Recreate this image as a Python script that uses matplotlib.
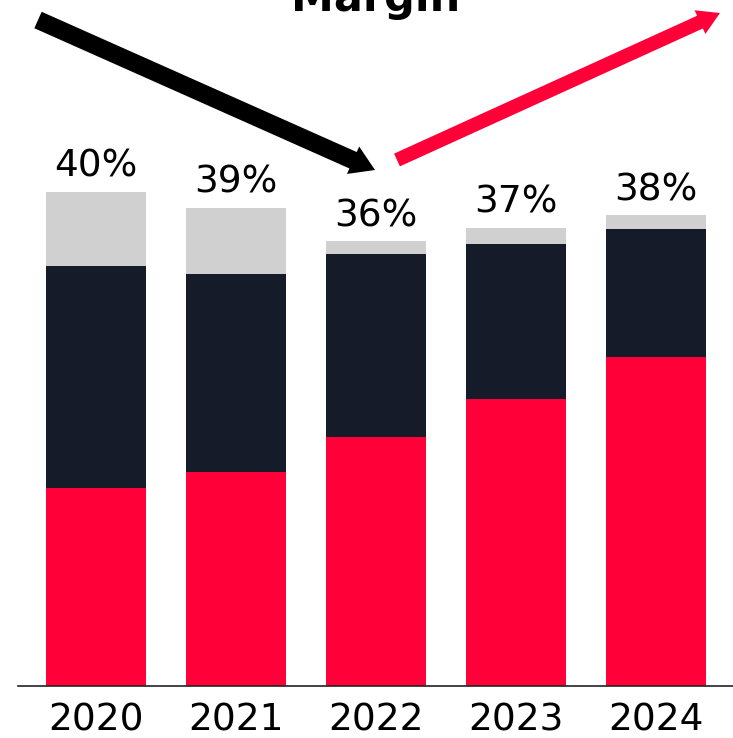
import matplotlib
matplotlib.use("Agg")
from matplotlib import pyplot as plt
from matplotlib.patches import FancyArrow
import numpy as np

# Margin breakdown per year (percentage points)
years = ["2020", "2021", "2022", "2023", "2024"]
core = [16.0, 17.3, 20.2, 23.2, 26.6]
mid = [18.0, 16.1, 14.8, 12.6, 10.4]
other = [6.0, 5.3, 1.0, 1.3, 1.1]
total_labels = ["40%", "39%", "36%", "37%", "38%"]

RED = "#FF0038"
NAVY = "#151B28"
GRAY = "#D0D0D0"

plt.rcParams.update({"font.family": "DejaVu Sans"})

W, H = 733, 738
fig = plt.figure(figsize=(W / 100, H / 100), dpi=100)
ax = fig.add_axes([18 / W, 52 / H, 715 / W, 686 / H])

x = np.arange(len(years))
bw = 100 / 140
core = np.array(core)
mid = np.array(mid)
other = np.array(other)

ax.bar(x, core, width=bw, color=RED, zorder=2)
ax.bar(x, mid, width=bw, bottom=core, color=NAVY, zorder=2)
ax.bar(x, other, width=bw, bottom=core + mid, color=GRAY, zorder=2)

tops = core + mid + other
for xi, top, lab in zip(x, tops, total_labels):
    ax.annotate(lab, (xi, top), xytext=(0, 11), textcoords="offset points",
                ha="center", va="baseline", fontsize=27, color="black")

ax.set_xlim(-78 / 140, 4 + 77 / 140)
ax.set_ylim(0, 686 / 12.35)
ax.set_xticks(x)
ax.set_xticklabels(years, fontsize=27)
ax.tick_params(axis="x", length=0, pad=12)
ax.set_yticks([])
for side in ["top", "right", "left"]:
    ax.spines[side].set_visible(False)
ax.spines["bottom"].set_color("#222222")
ax.spines["bottom"].set_linewidth(1.2)

# Title sits mostly above the top edge
fig.text(376 / W, 1 - 11 / H, "Margin", ha="center", va="baseline",
         fontsize=31, fontweight="bold", color="black")


def px_arrow(x0, y0, x1, y1, width, head_w, head_l, color):
    # pixel coordinates measured from the top-left corner
    a = FancyArrow(x0 / 100, (H - y0) / 100, (x1 - x0) / 100, (y0 - y1) / 100,
                   width=width / 100, head_width=head_w / 100, head_length=head_l / 100,
                   length_includes_head=True, color=color, linewidth=0,
                   transform=fig.dpi_scale_trans)
    fig.add_artist(a)


px_arrow(38, 20, 375, 170, 18, 30, 24, "black")
px_arrow(397, 160, 720, 13, 14, 26, 22, RED)

fig.savefig("out.png", dpi=100)
